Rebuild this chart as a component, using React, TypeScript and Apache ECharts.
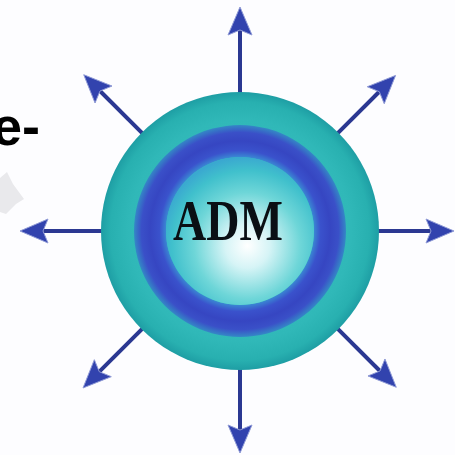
import React, { useEffect, useRef } from "react";
import * as echarts from "echarts";

// Logo geometry (no numeric chart data in this picture)
const CENTER = [240, 231];
const RING_RADII = [139, 106, 74]; // outer teal, blue ring outer, blue ring inner
const ARROW_ANGLES = [-90, -45, 0, 45, 90, 135, 180, 225];
const ARROW_TIP_R = [224, 220, 214, 221, 222, 222, 220, 221];
const LOGO_TEXT = "ADM";
const SIDE_TEXT = "e-";

export default function App() {
  const ref = useRef<HTMLDivElement>(null);
  useEffect(() => {
    document.body.style.margin = "0";
    const chart = echarts.init(ref.current!, null, { renderer: "svg" });
    const [cx, cy] = CENTER;
    const [rOuter, rBlueOut, rBlueIn] = RING_RADII;

    const arrows: any[] = [];
    ARROW_ANGLES.forEach((deg, i) => {
      const a = (deg * Math.PI) / 180;
      const ux = Math.cos(a);
      const uy = Math.sin(a);
      const px = -uy;
      const py = ux;
      const tip = ARROW_TIP_R[i];
      const headLen = 28;
      const half = 12;
      const p = (r: number, o = 0) => [cx + ux * r + px * o, cy + uy * r + py * o];
      arrows.push({
        type: "line",
        shape: {
          x1: p(rOuter - 6)[0],
          y1: p(rOuter - 6)[1],
          x2: p(tip - headLen + 6)[0],
          y2: p(tip - headLen + 6)[1],
        },
        style: { stroke: "#2b3892", lineWidth: 4 },
      });
      arrows.push({
        type: "polygon",
        shape: {
          points: [p(tip), p(tip - headLen, half), p(tip - headLen + 5), p(tip - headLen, -half)],
        },
        style: { fill: "#3243ae", stroke: "#8f9ad6", lineWidth: 1 },
      });
    });

    const option: any = {
      animation: false,
      backgroundColor: "#fdfdff",
      graphic: [
        {
          type: "polygon",
          shape: {
            points: [[0, 178], [7, 172], [13, 184], [24, 199], [16, 204], [6, 214], [0, 212]],
          },
          style: { fill: "#e9e9ec" },
        },
        {
          type: "text",
          x: -8,
          y: 126,
          style: {
            text: SIDE_TEXT,
            fontFamily: "Liberation Sans",
            fontWeight: "bold",
            fontSize: 54,
            fill: "#000",
            align: "left",
            verticalAlign: "middle",
          },
        },
        ...arrows,
        {
          type: "circle",
          shape: { cx, cy, r: rOuter },
          style: {
            fill: new echarts.graphic.RadialGradient(0.5, 0.5, 0.5, [
              { offset: 0, color: "#3cc4c4" },
              { offset: 0.8, color: "#30b8b8" },
              { offset: 0.93, color: "#28b0b0" },
              { offset: 1, color: "#1e9ea4" },
            ]),
          },
        },
        {
          type: "ring",
          shape: { cx, cy, r: rBlueOut, r0: rBlueIn },
          style: {
            fill: new echarts.graphic.RadialGradient(0.5, 0.5, 0.5, [
              { offset: 0.69, color: "#3a8ed4" },
              { offset: 0.76, color: "#3a52cc" },
              { offset: 0.85, color: "#3646c2" },
              { offset: 0.93, color: "#3a50c8" },
              { offset: 1, color: "#3488c6" },
            ]),
          },
        },
        {
          type: "circle",
          shape: { cx, cy, r: rBlueIn },
          style: {
            fill: new echarts.graphic.RadialGradient(0.55, 0.6, 0.6, [
              { offset: 0, color: "#ffffff" },
              { offset: 0.25, color: "#d6f4f6" },
              { offset: 0.6, color: "#6ed6d8" },
              { offset: 0.85, color: "#40c0cc" },
              { offset: 1, color: "#3aa8d0" },
            ]),
          },
        },
        {
          type: "text",
          x: 228,
          y: 221,
          scaleY: 1.25,
          style: {
            text: LOGO_TEXT,
            fontFamily: "Liberation Serif",
            fontWeight: "bold",
            fontSize: 46,
            fill: "#0a0f14",
            align: "center",
            verticalAlign: "middle",
          },
        },
      ],
    };
    chart.setOption(option);
    return () => chart.dispose();
  }, []);
  return (
    <div
      ref={ref}
      style={{ position: "fixed", left: 0, top: 0, width: 455, height: 455 }}
    />
  );
}
